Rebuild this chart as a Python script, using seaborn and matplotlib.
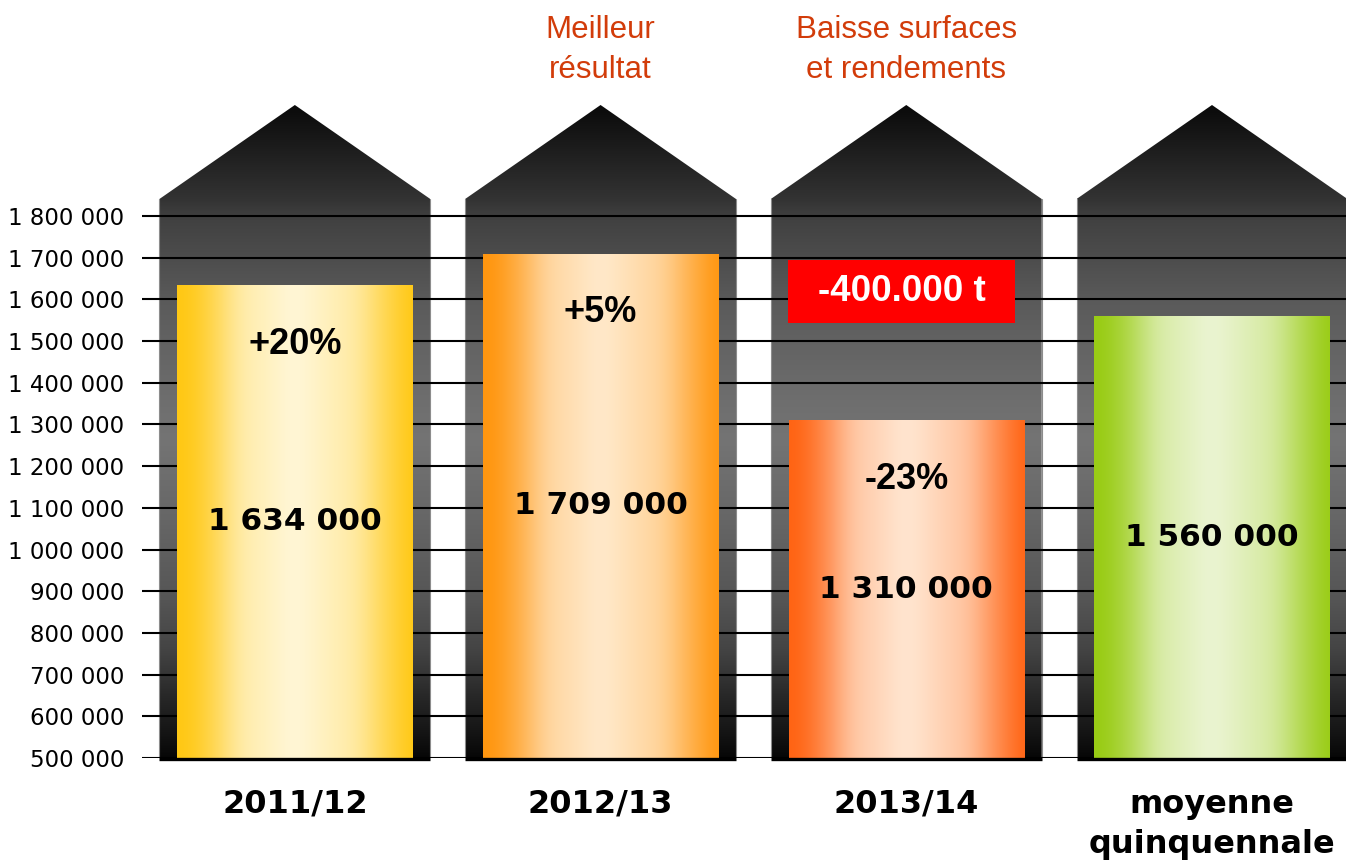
import numpy as np
import pandas as pd
import matplotlib
matplotlib.use("Agg")
import matplotlib.pyplot as plt
from matplotlib.patches import Polygon, Rectangle
from matplotlib.colors import to_rgb
import seaborn as sns

# ---------------- data ----------------
categories = ["2011/12", "2012/13", "2013/14", "moyenne\nquinquennale"]
values = [1634000, 1709000, 1310000, 1560000]
value_labels = ["1 634 000", "1 709 000", "1 310 000", "1 560 000"]
pct_labels = ["+20%", "+5%", "-23%", ""]
notes = {1: "Meilleur\nrésultat", 2: "Baisse surfaces\net rendements"}
box_text = "-400.000 t"
box_cat = 2
yticks = list(range(500000, 1800001, 100000))
ytick_labels = [f"{v:,}".replace(",", " ") for v in yticks]

edge_colors = ["#FFC814", "#FF960F", "#FF6414", "#99CC14"]
center_colors = ["#FFF6D4", "#FFE8C8", "#FFE4CE", "#EAF4D0"]

# ---------------- layout (pixels) ----------------
W, H = 1346, 861
AX_L, AX_B = 142, 758          # axes left / bottom (px)
PX_PER_UNIT_Y = 542 / 1300000  # px per tonne
PX_PER_CAT = 305.67
CAT0_PX = 295

Y0 = 500000
Y1 = Y0 + AX_B / PX_PER_UNIT_Y

def ypx(p):
    return Y0 + (AX_B - p) / PX_PER_UNIT_Y

def xpx(p):
    return (p - CAT0_PX) / PX_PER_CAT

sns.set_theme(style="white")
plt.rcParams["font.family"] = ["DejaVu Sans"]
plt.rcParams["text.color"] = "black"
plt.rcParams["xtick.color"] = "black"
plt.rcParams["ytick.color"] = "black"

fig = plt.figure(figsize=(W / 100, H / 100), dpi=100)
ax = fig.add_axes([AX_L / W, (H - AX_B) / H, (W - AX_L) / W, AX_B / H])

df = pd.DataFrame({"cat": categories, "val": values})
sns.barplot(data=df, x="cat", y="val", hue="cat", palette=edge_colors,
            width=0.77, ax=ax, legend=False, saturation=1, zorder=2)

XL = (-0.5, xpx(W))
ax.set_xlim(*XL)
ax.set_ylim(Y0, Y1)

# ---------------- silos ----------------
silo_half = 0.443
shoulder = ypx(199)
peak = ypx(105)
bottom = Y0
stops_px = [105, 199, 216, 300, 400, 440, 520, 600, 650, 700, 740, 761]
stops_col = ["#0a0a0a", "#333333", "#404040", "#5a5a5a", "#6e6e6e", "#747474",
             "#666666", "#555555", "#444444", "#262626", "#111111", "#050505"]
stops_y = np.array([ypx(p) for p in stops_px])[::-1]
stops_rgb = np.array([to_rgb(c) for c in stops_col])[::-1]
ny = 500
ys = np.linspace(bottom, peak, ny)
grad = np.stack([np.interp(ys, stops_y, stops_rgb[:, k]) for k in range(3)], axis=-1)
grad = grad[:, None, :]

for i in range(len(categories)):
    cx = i
    poly = Polygon([[cx - silo_half, bottom], [cx - silo_half, shoulder], [cx, peak],
                    [cx + silo_half, shoulder], [cx + silo_half, bottom]],
                   closed=True, facecolor="none", edgecolor="none", transform=ax.transData)
    ax.add_patch(poly)
    im = ax.imshow(grad, extent=[cx - silo_half, cx + silo_half, bottom, peak],
                   origin="lower", aspect="auto", zorder=0.2, interpolation="bilinear")
    im.set_clip_path(poly)
    # light side edges
    ax.plot([cx - silo_half, cx - silo_half], [bottom, shoulder], color="#8c8c8c", lw=0.8, zorder=0.3)
    ax.plot([cx + silo_half, cx + silo_half], [bottom, shoulder], color="#8c8c8c", lw=0.8, zorder=0.3)
    ax.plot([cx - silo_half, cx + silo_half], [ypx(759), ypx(759)], color="black", lw=2.4,
            zorder=3, clip_on=False, solid_capstyle="butt")

# ---------------- bar gradients ----------------
pos = np.array([0, 0.05, 0.15, 0.27, 0.5, 0.76, 0.89, 1.0])
wts = np.array([0, 0.03, 0.3, 0.75, 1.0, 0.72, 0.3, 0.0])
n = 600
xs = np.linspace(0, 1, n)
w_raw = np.interp(xs, pos, wts)
sig = 0.035 * n
kx = np.arange(-int(3 * sig), int(3 * sig) + 1)
kern = np.exp(-0.5 * (kx / sig) ** 2)
kern /= kern.sum()
padded = np.pad(w_raw, len(kx) // 2, mode="edge")
w = np.convolve(padded, kern, mode="valid")
w = np.clip(w - w[0], 0, None)
w = w / w.max()

for i, patch in enumerate(ax.patches[:len(categories)]):
    e = np.array(to_rgb(edge_colors[i]))
    c = np.array(to_rgb(center_colors[i]))
    row = e[None, :] * (1 - w[:, None]) + c[None, :] * w[:, None]
    img = row[None, :, :]
    x0, wd, h = patch.get_x(), patch.get_width(), patch.get_height()
    patch.set_facecolor("none")
    patch.set_edgecolor("none")
    gi = ax.imshow(img, extent=[x0, x0 + wd, Y0, h], origin="lower", aspect="auto",
                   zorder=2.1, interpolation="bilinear")
    gi.set_clip_path(patch)
    # labels
    ax.text(x0 + wd / 2, (Y0 + h) / 2, value_labels[i], ha="center", va="center",
            fontsize=22.5, fontweight="bold", color="black", zorder=4)
    if pct_labels[i]:
        ax.annotate(pct_labels[i], xy=(x0 + wd / 2, h), xytext=(0, -59 * 0.72),
                    textcoords="offset points", ha="center", va="center",
                    fontsize=26, fontweight="bold", family="Liberation Sans",
                    color="black", zorder=4)

ax.set_xlim(*XL)
ax.set_ylim(Y0, Y1)

# ---------------- red box ----------------
bx0, bx1 = xpx(788), xpx(1015)
by0, by1 = ypx(323), ypx(260)
ax.add_patch(Rectangle((bx0, by0), bx1 - bx0, by1 - by0, facecolor="#FF0000",
                       edgecolor="none", zorder=3))
ax.text((bx0 + bx1) / 2, (by0 + by1) / 2, box_text, ha="center", va="center",
        fontsize=26.5, fontweight="bold", family="Liberation Sans", color="white", zorder=4)

# ---------------- notes ----------------
for k, t in notes.items():
    ax.text(k, ypx(50), t, ha="center", va="center", fontsize=22.5,
            family="Liberation Sans", color="#D23C0A", linespacing=1.4, zorder=4)

# ---------------- axes ----------------
ax.set_yticks(yticks)
ax.set_yticklabels(ytick_labels)
ax.yaxis.grid(True, color="black", lw=1.5)
ax.xaxis.grid(False)
ax.set_axisbelow(True)
for gl in ax.get_ygridlines():
    gl.set_zorder(0.5)
ax.set_xticks(range(len(categories)))
ax.set_xticklabels(categories, fontsize=23, fontweight="bold", linespacing=1.38,
                   va="top", color="black")
ax.tick_params(axis="x", length=0, pad=22)
ax.tick_params(axis="y", length=0, pad=13, labelsize=16.5, labelcolor="black")
ax.set_xlabel("")
ax.set_ylabel("")
for s in ax.spines.values():
    s.set_visible(False)
ax.patch.set_alpha(0)

fig.savefig("out.png", dpi=100)
